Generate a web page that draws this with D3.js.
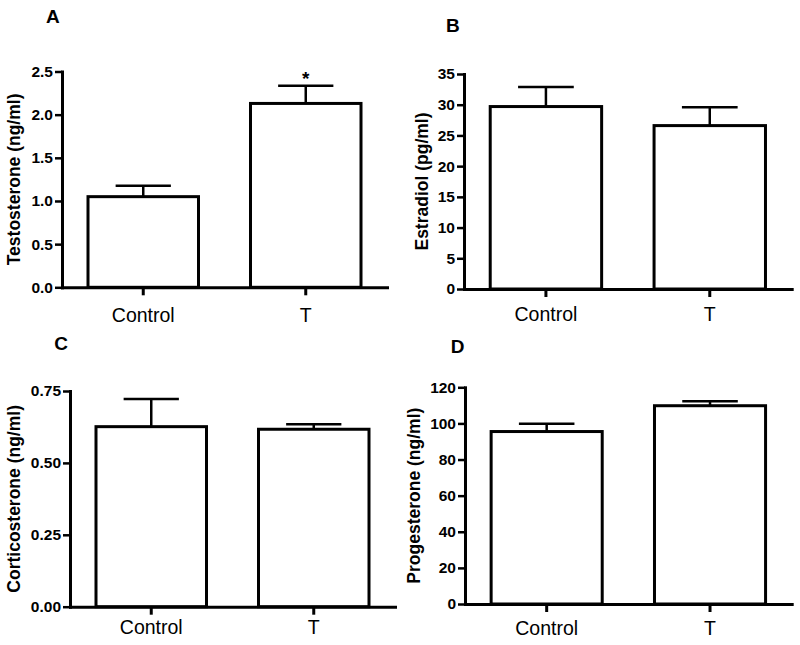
<!DOCTYPE html>
<html>
<head>
<meta charset="utf-8">
<script src="https://cdn.jsdelivr.net/npm/d3@7"></script>
<style>
  body { margin: 0; background: #fff; }
  svg { display: block; font-family: "Liberation Sans", Arial, sans-serif; }
</style>
</head>
<body>
<div id="chart"></div>
<script>
// groups shared by all four panels
const groups = ['Control', 'T'];

// A: testosterone (ng/ml)
const testosteroneMean = [1.05, 2.13];
const testosteroneSem = [0.125, 0.205];
const testosteroneTicks = [0, 0.5, 1.0, 1.5, 2.0, 2.5];
const testosteroneSig = ['', '*'];

// B: estradiol (pg/ml)
const estradiolMean = [29.7, 26.6];
const estradiolSem = [3.2, 3.0];
const estradiolTicks = [0, 5, 10, 15, 20, 25, 30, 35];

// C: corticosterone (ng/ml)
const corticosteroneMean = [0.626, 0.617];
const corticosteroneSem = [0.096, 0.017];
const corticosteroneTicks = [0, 0.25, 0.5, 0.75];

// D: progesterone (ng/ml)
const progesteroneMean = [95.5, 109.8];
const progesteroneSem = [4.3, 2.5];
const progesteroneTicks = [0, 20, 40, 60, 80, 100, 120];

const W = 800, H = 645;

const panels = [
  { letter: 'A', title: 'Testosterone (ng/ml)', mean: testosteroneMean, sem: testosteroneSem,
    ticks: testosteroneTicks, fmt: d3.format('.1f'), sig: testosteroneSig,
    x0: 62, x1: 387, yTop: 71.5, yBot: 287.3, lx: 46, ly: 22.7, tx: 20, xOff: 35 },
  { letter: 'B', title: 'Estradiol (pg/ml)', mean: estradiolMean, sem: estradiolSem,
    ticks: estradiolTicks, fmt: d3.format('d'), sig: null,
    x0: 464, x1: 791.7, yTop: 74, yBot: 289, lx: 446, ly: 32.3, tx: 428, xOff: 32 },
  { letter: 'C', title: 'Corticosterone (ng/ml)', mean: corticosteroneMean, sem: corticosteroneSem,
    ticks: corticosteroneTicks, fmt: d3.format('.2f'), sig: null,
    x0: 70, x1: 395, yTop: 391, yBot: 606.7, lx: 54.3, ly: 350, tx: 20, xOff: 27 },
  { letter: 'D', title: 'Progesterone (ng/ml)', mean: progesteroneMean, sem: progesteroneSem,
    ticks: progesteroneTicks, fmt: d3.format('d'), sig: null,
    x0: 465, x1: 791.7, yTop: 387.3, yBot: 604, lx: 450.7, ly: 352.7, tx: 419.5, xOff: 31 }
];

const svg = d3.select('#chart')
  .append('svg')
  .attr('width', W)
  .attr('height', H)
  .attr('viewBox', [0, 0, W, H]);

svg.append('rect').attr('width', W).attr('height', H).attr('fill', '#fff');

function drawPanel(p) {
  const g = svg.append('g');

  const x = d3.scaleBand()
    .domain(groups)
    .range([p.x0, p.x1])
    .paddingInner(0.32)
    .paddingOuter(0.16);

  const y = d3.scaleLinear()
    .domain([0, d3.max(p.ticks)])
    .range([p.yBot, p.yTop]);

  const rows = groups.map((k, i) => ({ key: k, mean: p.mean[i], sem: p.sem[i], sig: p.sig ? p.sig[i] : '' }));

  // bars
  g.append('g')
    .selectAll('rect')
    .data(rows)
    .join('rect')
    .attr('x', d => x(d.key))
    .attr('y', d => y(d.mean))
    .attr('width', x.bandwidth())
    .attr('height', d => y(0) - y(d.mean))
    .attr('fill', '#fff')
    .attr('stroke', '#000')
    .attr('stroke-width', 3);

  // error bars (upper half only)
  const err = g.append('g')
    .attr('stroke', '#000')
    .attr('stroke-width', 2.5);
  const cx = d => x(d.key) + x.bandwidth() / 2;
  const capW = x.bandwidth() / 2;

  err.selectAll('line.stem')
    .data(rows)
    .join('line')
    .attr('class', 'stem')
    .attr('x1', cx).attr('x2', cx)
    .attr('y1', d => y(d.mean))
    .attr('y2', d => y(d.mean + d.sem));

  err.selectAll('line.cap')
    .data(rows)
    .join('line')
    .attr('class', 'cap')
    .attr('x1', d => cx(d) - capW / 2)
    .attr('x2', d => cx(d) + capW / 2)
    .attr('y1', d => y(d.mean + d.sem))
    .attr('y2', d => y(d.mean + d.sem));

  // significance marks
  g.selectAll('text.sig')
    .data(rows.filter(d => d.sig))
    .join('text')
    .attr('class', 'sig')
    .attr('x', cx)
    .attr('y', d => y(d.mean + d.sem) - 1)
    .attr('text-anchor', 'middle')
    .attr('font-size', 19)
    .attr('font-weight', 'bold')
    .text(d => d.sig);

  // y axis
  const yAxis = g.append('g')
    .attr('transform', `translate(${p.x0},0)`)
    .call(d3.axisLeft(y).tickValues(p.ticks).tickFormat(p.fmt).tickSize(7).tickPadding(2).tickSizeOuter(0));
  yAxis.select('.domain').attr('stroke-width', 3).attr('stroke-linecap', 'square');
  yAxis.selectAll('.tick line').attr('stroke-width', 2.5);
  yAxis.selectAll('.tick text')
    .attr('font-family', null)
    .attr('font-size', 15.5)
    .attr('font-weight', 'bold')
    .attr('fill', '#000');

  // x axis
  const xAxis = g.append('g')
    .attr('transform', `translate(0,${p.yBot})`)
    .call(d3.axisBottom(x).tickSize(8).tickSizeOuter(0));
  xAxis.select('.domain').attr('stroke-width', 3).attr('stroke-linecap', 'square');
  xAxis.selectAll('.tick line').attr('stroke-width', 3);
  xAxis.selectAll('.tick text')
    .attr('font-family', null)
    .attr('font-size', 19.5)
    .attr('fill', '#000')
    .attr('dy', null)
    .attr('y', p.xOff);

  // y title
  g.append('text')
    .attr('transform', `translate(${p.tx},${(p.yTop + p.yBot) / 2}) rotate(-90)`)
    .attr('text-anchor', 'middle')
    .attr('font-size', 17.5)
    .attr('font-weight', 'bold')
    .text(p.title);

  // panel letter
  g.append('text')
    .attr('x', p.lx)
    .attr('y', p.ly)
    .attr('font-size', 19)
    .attr('font-weight', 'bold')
    .text(p.letter);
}

panels.forEach(drawPanel);
</script>
</body>
</html>
